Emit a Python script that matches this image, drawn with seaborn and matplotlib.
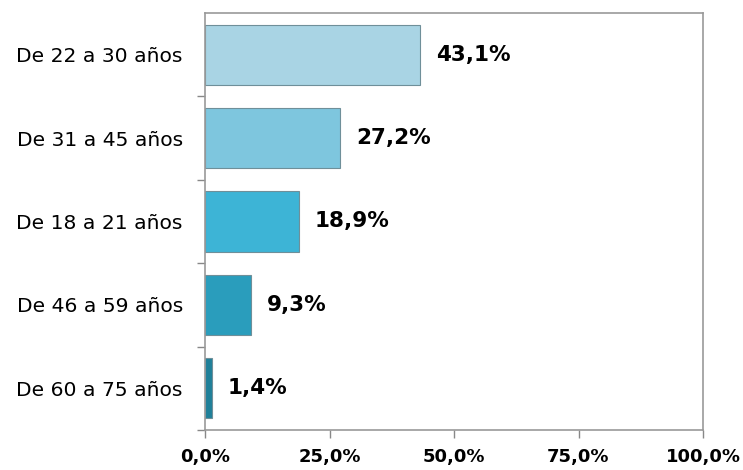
import matplotlib
matplotlib.use("Agg")
import matplotlib.pyplot as plt
import seaborn as sns
import pandas as pd
import numpy as np

# datos
grupos = ["De 22 a 30 años", "De 31 a 45 años", "De 18 a 21 años",
          "De 46 a 59 años", "De 60 a 75 años"]
porcentajes = [43.1, 27.2, 18.9, 9.3, 1.4]
colores = ["#a9d4e4", "#7ec6de", "#3db4d6", "#2a9dbc", "#1f8099"]
ticks_x = [0, 25, 50, 75, 100]

df = pd.DataFrame({"grupo": grupos, "pct": porcentajes})

sns.set_style("white")
plt.rcParams["font.family"] = ["DejaVu Sans"]

fig = plt.figure(figsize=(7.43, 4.70), dpi=100)
ax = fig.add_axes([205 / 743, 40 / 470, 498 / 743, 417 / 470])

sns.barplot(data=df, x="pct", y="grupo", hue="grupo", palette=colores,
            saturation=1, legend=False, width=0.72, edgecolor="#6f8f99",
            linewidth=0.8, ax=ax)

for i, v in enumerate(porcentajes):
    ax.text(v + 3.2, i, f"{v:.1f}%".replace(".", ","), va="center", ha="left",
            fontsize=15.5, fontweight="bold", color="black")

ax.set_xlim(0, 100)
ax.set_ylim(4.5, -0.5)
ax.set_xticks(ticks_x)
ax.set_xticklabels([f"{t:.1f}%".replace(".", ",") for t in ticks_x],
                   fontsize=13, fontweight="bold", color="black")
ax.set_yticks(range(len(grupos)))
ax.set_yticklabels(grupos, fontsize=14.6, color="black")
# marcas entre categorias (sin la de arriba)
ax.set_yticks(np.arange(0.5, 5, 1), minor=True)
ax.tick_params(axis="y", which="major", length=0, pad=16)
ax.tick_params(axis="y", which="minor", length=6, color="#888888", width=1, direction="out", left=True)
ax.tick_params(axis="x", length=6, color="#888888", width=1, direction="out", bottom=True, pad=7)
ax.set_xlabel("")
ax.set_ylabel("")
for s in ax.spines.values():
    s.set_color("#999999")
    s.set_linewidth(1.2)

fig.savefig("out.png", dpi=100)
